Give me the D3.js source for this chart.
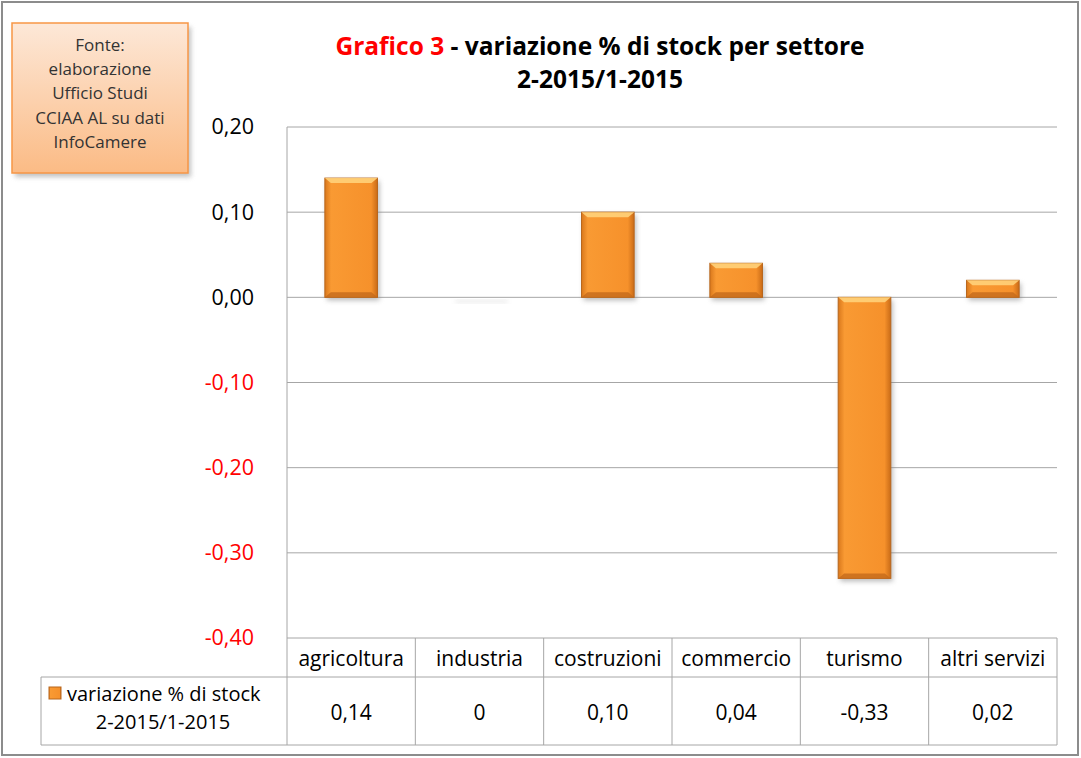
<!DOCTYPE html>
<html>
<head>
<meta charset="utf-8">
<script src="https://cdn.jsdelivr.net/npm/d3@7"></script>
<style>
  body { margin: 0; background: #fff; }
  text { font-family: "Open Sans", Lato, sans-serif; }
</style>
</head>
<body>
<div id="chart"></div>
<script>
// data
var settori = ["agricoltura", "industria", "costruzioni", "commercio", "turismo", "altri servizi"]
var valori = [0.14, 0, 0.10, 0.04, -0.33, 0.02]
var etichette = ["0,14", "0", "0,10", "0,04", "-0,33", "0,02"]
var yTicks = [0.20, 0.10, 0.00, -0.10, -0.20, -0.30, -0.40]
var fonteRighe = ["Fonte:", "elaborazione", "Ufficio Studi", "CCIAA AL su dati", "InfoCamere"]
var serieNome = ["variazione % di stock", "2-2015/1-2015"]

var W = 1081, H = 758
var margin = {top: 127, right: 24, bottom: 120, left: 287}
var width = W - margin.left - margin.right,
    height = H - margin.top - margin.bottom

var svg = d3.select("#chart").append("svg")
  .attr("width", W)
  .attr("height", H)

var defs = svg.append("defs")
var grad = defs.append("linearGradient").attr("id", "barGrad")
  .attr("x1", 0).attr("x2", 1).attr("y1", 0).attr("y2", 0)
grad.append("stop").attr("offset", "0%").attr("stop-color", "#d9781c")
grad.append("stop").attr("offset", "12%").attr("stop-color", "#f99a33")
grad.append("stop").attr("offset", "88%").attr("stop-color", "#f6912b")
grad.append("stop").attr("offset", "100%").attr("stop-color", "#c96b17")

var boxGrad = defs.append("linearGradient").attr("id", "boxGrad")
  .attr("x1", 0).attr("x2", 0).attr("y1", 0).attr("y2", 1)
boxGrad.append("stop").attr("offset", "0%").attr("stop-color", "#fde8d8")
boxGrad.append("stop").attr("offset", "100%").attr("stop-color", "#fbbb85")

var blur = defs.append("filter").attr("id", "blur")
  .attr("x", "-20%").attr("y", "-50%").attr("width", "140%").attr("height", "200%")
blur.append("feGaussianBlur").attr("stdDeviation", 2.5)

// outer frame
svg.append("rect")
  .attr("x", 2).attr("y", 2)
  .attr("width", W - 5).attr("height", H - 5)
  .attr("fill", "#fff")
  .attr("stroke", "#8c8c8c")
  .attr("stroke-width", 2)

// fonte box
svg.append("rect")
  .attr("x", 15).attr("y", 27).attr("width", 176).attr("height", 150)
  .attr("fill", "#999").attr("opacity", 0.6).attr("filter", "url(#blur)")
svg.append("rect")
  .attr("x", 12).attr("y", 23).attr("width", 176).attr("height", 150)
  .attr("fill", "url(#boxGrad)")
  .attr("stroke", "#f79646").attr("stroke-width", 1.5)
svg.append("g").selectAll("text")
  .data(fonteRighe)
  .join("text")
  .attr("x", 100)
  .attr("y", function(d, i) { return 51 + i * 24.2 })
  .attr("text-anchor", "middle")
  .attr("font-size", 17)
  .attr("fill", "#333")
  .text(function(d) { return d })

// title
var title = svg.append("text")
  .attr("x", 600).attr("y", 55)
  .attr("text-anchor", "middle")
  .attr("font-size", 24.5)
  .attr("font-weight", "bold")
title.append("tspan").attr("fill", "#ff0000").text("Grafico 3")
title.append("tspan").attr("fill", "#000").text(" - variazione % di stock per settore")
svg.append("text")
  .attr("x", 600).attr("y", 88)
  .attr("text-anchor", "middle")
  .attr("font-size", 24.5)
  .attr("font-weight", "bold")
  .text(serieNome[1])

var g = svg.append("g")
  .attr("transform", "translate(" + margin.left + "," + margin.top + ")")

var x = d3.scaleBand()
  .domain(settori)
  .range([0, width])
  .paddingInner(0.59)
  .paddingOuter(0.295)

var y = d3.scaleLinear()
  .domain([-0.40, 0.20])
  .range([height, 0])

// gridlines
g.append("g").selectAll("line")
  .data(yTicks)
  .join("line")
  .attr("x1", 0).attr("x2", width)
  .attr("y1", function(d) { return y(d) })
  .attr("y2", function(d) { return y(d) })
  .attr("stroke", "#a6a6a6")
  .attr("stroke-width", 1)

g.append("line")
  .attr("x1", 0).attr("x2", 0)
  .attr("y1", 0).attr("y2", height)
  .attr("stroke", "#a6a6a6")

// y axis labels
var yAxis = g.append("g")
  .attr("transform", "translate(-30,0)")
  .call(d3.axisLeft(y).tickValues(yTicks).tickSize(0)
    .tickFormat(function(d) { return d3.format(".2f")(d).replace(".", ",").replace("−", "-") }))
yAxis.select(".domain").remove()
yAxis.selectAll("text")
  .attr("font-size", 21.5)
  .attr("font-family", "'Open Sans', sans-serif")
  .attr("fill", function(d) { return d < 0 ? "#ff0000" : "#000" })

// bar shadows
g.append("g").selectAll("rect")
  .data(valori)
  .join("rect")
  .attr("x", function(d, i) { return x(settori[i]) + 2 })
  .attr("y", function(d) { return Math.min(y(d), y(0)) + 3 })
  .attr("width", x.bandwidth())
  .attr("height", function(d) { return Math.max(Math.abs(y(d) - y(0)), 2) })
  .attr("fill", "#777")
  .attr("opacity", function(d) { return d == 0 ? 0.25 : 0.5 })
  .attr("filter", "url(#blur)")

// bars
var bars = g.append("g").selectAll("g")
  .data(valori.filter(function(d) { return d != 0 }))
  .join("g")
bars.each(function(d) {
  var i = valori.indexOf(d)
  var bx = x(settori[i]), bw = x.bandwidth()
  var by = Math.min(y(d), y(0)), bh = Math.abs(y(d) - y(0))
  var el = d3.select(this)
  el.append("rect")
    .attr("x", bx).attr("y", by).attr("width", bw).attr("height", bh)
    .attr("fill", "url(#barGrad)")
    .attr("stroke", "#b8661c").attr("stroke-width", 1)
  var bev = Math.min(5, bh / 3)
  el.append("path")
    .attr("d", "M" + bx + "," + by + "L" + (bx + bw) + "," + by + "L" + (bx + bw - 6) + "," + (by + bev) +
      "L" + (bx + 6) + "," + (by + bev) + "Z")
    .attr("fill", "#ffd27a").attr("opacity", 0.9)
  el.append("path")
    .attr("d", "M" + bx + "," + (by + bh) + "L" + (bx + bw) + "," + (by + bh) + "L" + (bx + bw - 6) + "," + (by + bh - bev) +
      "L" + (bx + 6) + "," + (by + bh - bev) + "Z")
    .attr("fill", "#c46a1c").attr("opacity", 0.8)
})

// data table
var rowH1 = 39, rowH2 = 68
var tableLeft = 41 - margin.left
var table = g.append("g").attr("transform", "translate(0," + height + ")")
var grid = "#a6a6a6"
var cols = settori.map(function(s) { return x(s) - x.step() * x.paddingOuter() })
cols.push(width)
table.selectAll(".vline")
  .data(cols)
  .join("line")
  .attr("class", "vline")
  .attr("x1", function(d) { return d }).attr("x2", function(d) { return d })
  .attr("y1", 0).attr("y2", rowH1 + rowH2)
  .attr("stroke", grid)
table.append("line").attr("x1", 0).attr("x2", width).attr("y1", rowH1).attr("y2", rowH1).attr("stroke", grid)
table.append("line").attr("x1", tableLeft).attr("x2", 0).attr("y1", rowH1).attr("y2", rowH1).attr("stroke", grid)
table.append("line").attr("x1", tableLeft).attr("x2", width).attr("y1", rowH1 + rowH2).attr("y2", rowH1 + rowH2).attr("stroke", grid)
table.append("line").attr("x1", tableLeft).attr("x2", tableLeft).attr("y1", rowH1).attr("y2", rowH1 + rowH2).attr("stroke", grid)

table.selectAll(".cat")
  .data(settori)
  .join("text")
  .attr("class", "cat")
  .attr("x", function(d) { return x(d) + x.bandwidth() / 2 })
  .attr("y", 28)
  .attr("text-anchor", "middle")
  .attr("font-size", 21)
  .attr("fill", "#000")
  .text(function(d) { return d })

table.selectAll(".val")
  .data(etichette)
  .join("text")
  .attr("class", "val")
  .attr("x", function(d, i) { return x(settori[i]) + x.bandwidth() / 2 })
  .attr("y", rowH1 + 43)
  .attr("text-anchor", "middle")
  .attr("font-size", 21)
  .attr("fill", "#000")
  .text(function(d) { return d })

// legend cell
table.append("rect")
  .attr("x", tableLeft + 8).attr("y", rowH1 + 10)
  .attr("width", 12).attr("height", 12)
  .attr("fill", "url(#barGrad)")
  .attr("stroke", "#b8661c")
table.append("text")
  .attr("x", tableLeft + 26).attr("y", rowH1 + 24)
  .attr("font-size", 20)
  .text(serieNome[0])
table.append("text")
  .attr("x", tableLeft + 122).attr("y", rowH1 + 52)
  .attr("text-anchor", "middle")
  .attr("font-size", 20)
  .text(serieNome[1])
</script>
</body>
</html>
